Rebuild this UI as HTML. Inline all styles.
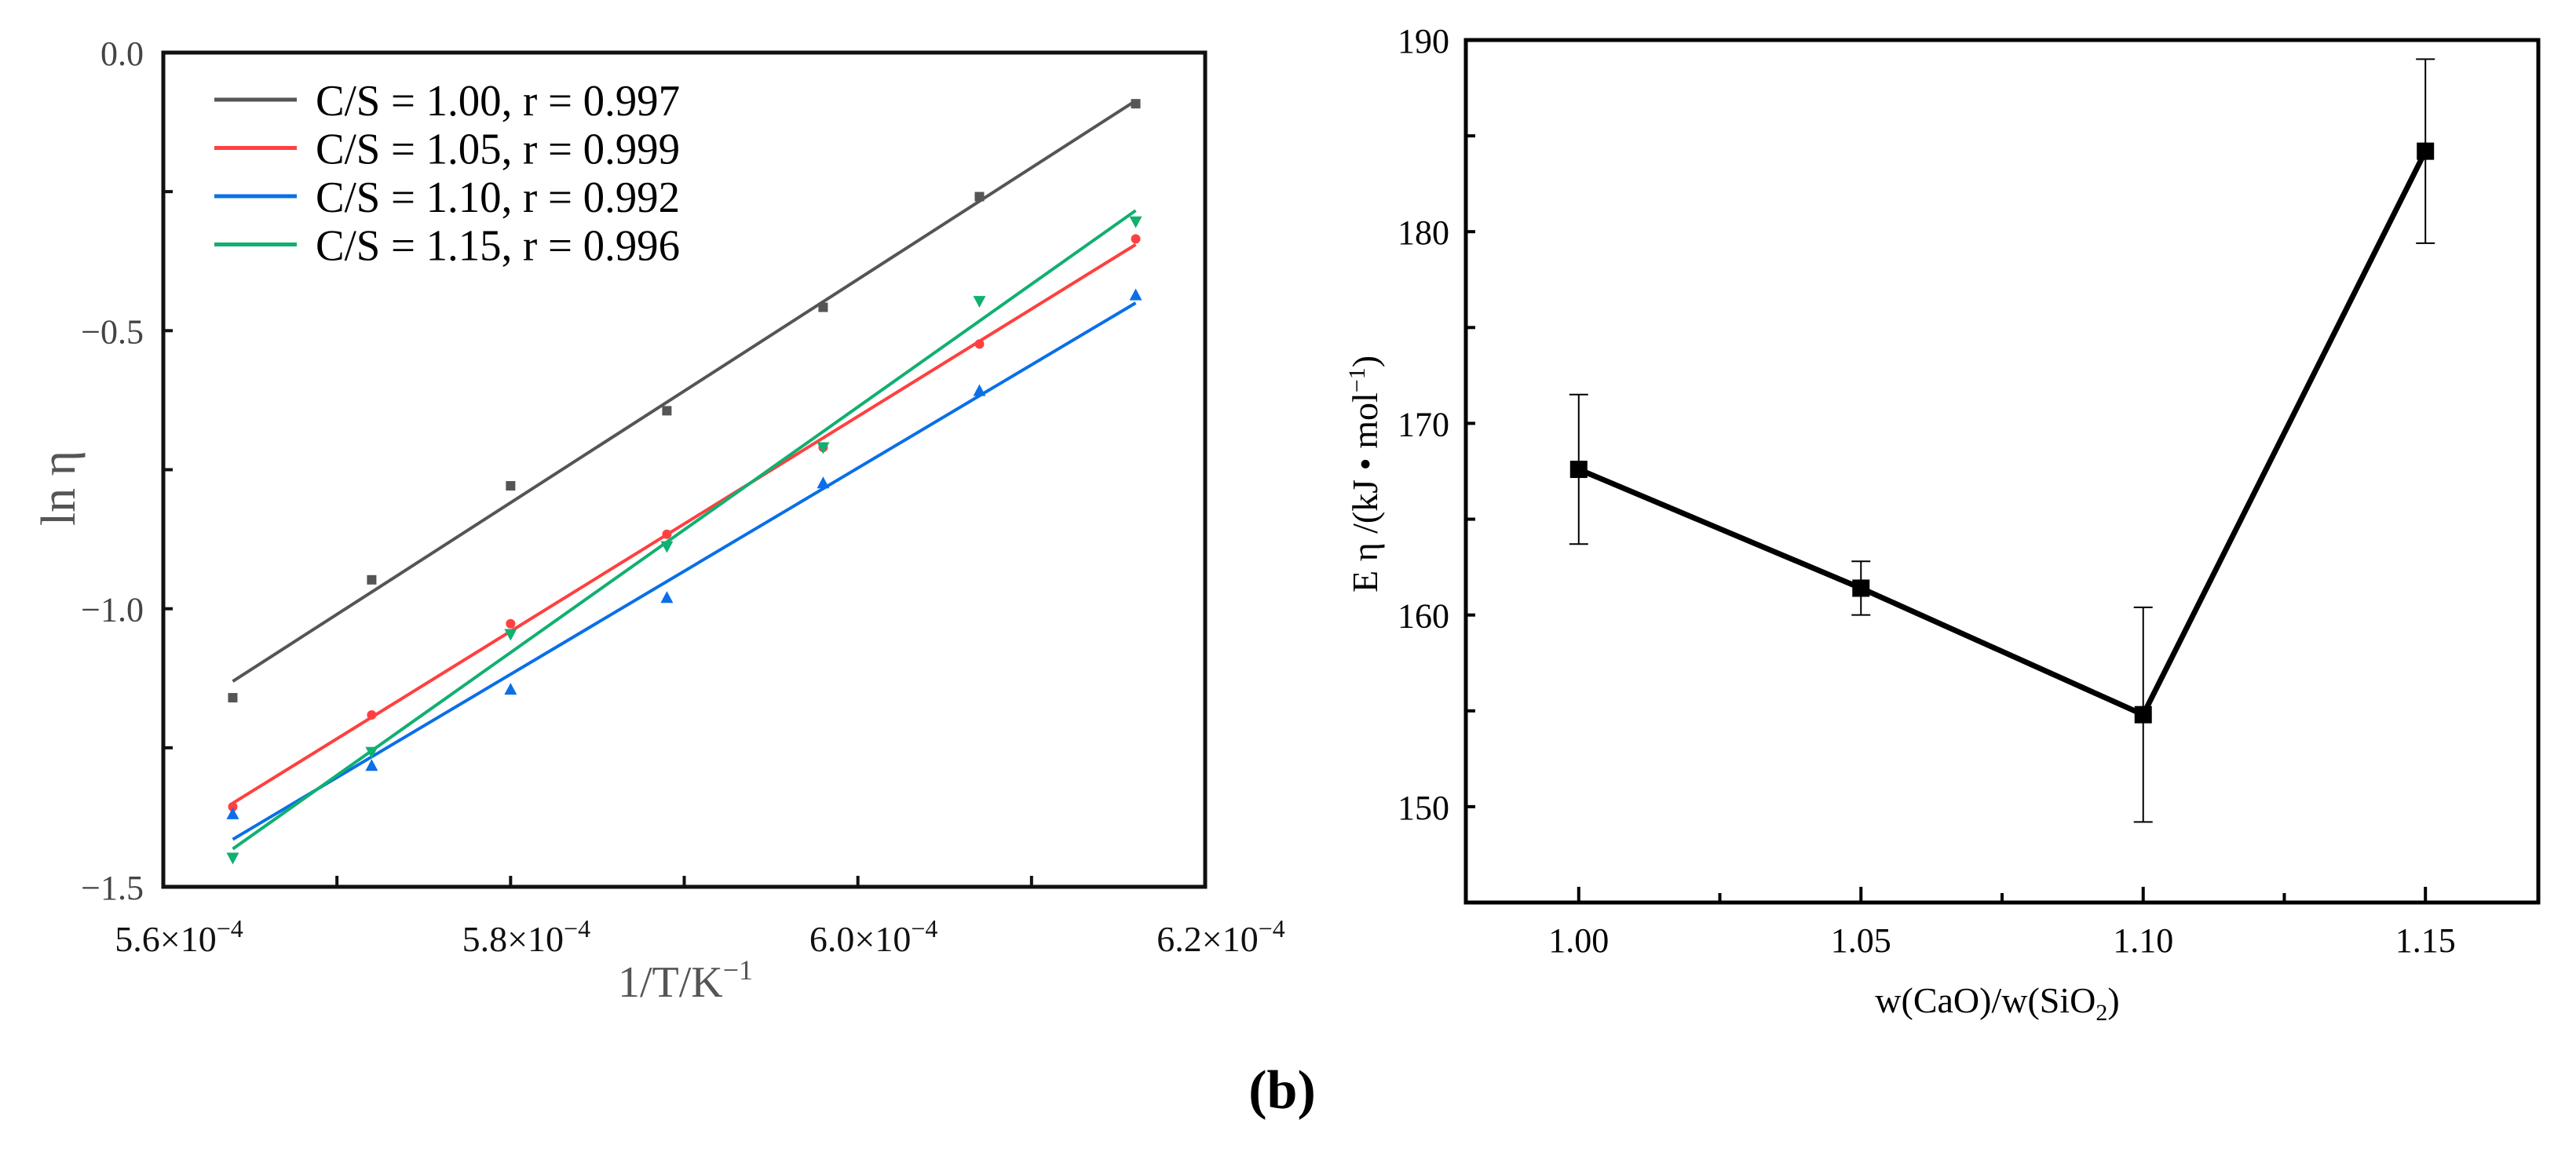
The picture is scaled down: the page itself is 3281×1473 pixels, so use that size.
<!DOCTYPE html>
<html><head><meta charset="utf-8"><style>
html,body{margin:0;padding:0;background:#fff;}
svg{display:block;}
text{font-family:"Liberation Serif",serif;}
</style></head><body>
<svg id="fig" width="3281" height="1473" viewBox="0 0 3281 1473" xmlns="http://www.w3.org/2000/svg">
<g id="left"></g>
<g id="right"></g>
<text x="1633" y="1412" font-size="70" font-weight="bold" text-anchor="middle">(b)</text>
</svg>
<script>
// ---- Left chart data ----
const invT = [5.64, 5.72, 5.80, 5.89, 5.98, 6.07, 6.16]; // ×1e-4
const seriesNames = ["C/S = 1.00, r = 0.997","C/S = 1.05, r = 0.999","C/S = 1.10, r = 0.992","C/S = 1.15, r = 0.996"];
const lnEta100 = [-1.160,-0.948,-0.779,-0.644,-0.458,-0.259,-0.092];
const lnEta105 = [-1.356,-1.191,-1.027,-0.866,-0.710,-0.524,-0.335];
const lnEta110 = [-1.370,-1.283,-1.146,-0.981,-0.775,-0.609,-0.437];
const lnEta115 = [-1.447,-1.257,-1.045,-0.887,-0.709,-0.446,-0.303];
const leftXTicks = [5.6, 5.8, 6.0, 6.2];
const leftYTicks = [0.0, -0.5, -1.0, -1.5];
// ---- Right chart data ----
const csRatio = [1.00, 1.05, 1.10, 1.15];
const energy = [167.6, 161.4, 154.8, 184.2];
const errUp = [171.5, 162.8, 160.4, 189.0];
const errLo = [163.7, 160.0, 149.2, 179.4];
const rightXTicks = ["1.00","1.05","1.10","1.15"];
const rightYTicks = [150, 160, 170, 180, 190];

const NS="http://www.w3.org/2000/svg";
function mk(parent, tag, attrs){const e=document.createElementNS(NS,tag);for(const k in attrs)e.setAttribute(k,attrs[k]);parent.appendChild(e);return e;}

// ===== LEFT =====
(function(){
const g=document.getElementById('left');
const L=208,R=1535,T=67,B=1130;
const xs=v=>L+(v-5.6)/0.6*(R-L);
const ys=v=>T+(0-v)/1.5*(B-T);
const colors=["#555555","#ff4040","#0a6fe8","#10b070"];
const data=[lnEta100,lnEta105,lnEta110,lnEta115];
// ticks
for(let v=5.7;v<6.2-1e-6;v+=0.1){const t=mk(g,'line',{x1:xs(v),x2:xs(v),y1:B,y2:B-14,stroke:'#111','stroke-width':4});

}
for(let v=-0.25;v>-1.5+1e-6;v-=0.25){const t=mk(g,'line',{x1:L,x2:L+12,y1:ys(v),y2:ys(v),stroke:'#111','stroke-width':4});

}
const box=mk(g,'rect',{x:L,y:T,width:R-L,height:B-T,fill:'none',stroke:'#111','stroke-width':5});


leftYTicks.forEach(v=>{const t=mk(g,'text',{x:183,y:ys(v)+16,'font-size':44,'text-anchor':'end',fill:'#444'});t.textContent=v.toFixed(1).replace('-','−');

});
leftXTicks.forEach(v=>{const t=mk(g,'text',{x:xs(v)+20,y:1212,'font-size':46,'text-anchor':'middle',fill:'#111'});
t.innerHTML=v.toFixed(1)+'×10<tspan dy="-18" font-size="32">−4</tspan>';

});
const xt=mk(g,'text',{x:873,y:1270,'font-size':56,'text-anchor':'middle',fill:'#555'});
xt.innerHTML='1/T/K<tspan dy="-22" font-size="36">−1</tspan>';


const yt=mk(g,'text',{x:0,y:0,'font-size':62,'text-anchor':'middle',fill:'#555',transform:'translate(95,622) rotate(-90)'});
yt.textContent='ln η';


data.forEach((ys_,i)=>{
  const n=invT.length;let mx=0,my=0;for(let k=0;k<n;k++){mx+=invT[k];my+=ys_[k];}mx/=n;my/=n;
  let sxy=0,sxx=0;for(let k=0;k<n;k++){sxy+=(invT[k]-mx)*(ys_[k]-my);sxx+=(invT[k]-mx)**2;}
  const b=sxy/sxx,a=my-b*mx;const x0=invT[0],x1=invT[n-1];
  const ln=mk(g,'line',{x1:xs(x0),y1:ys(a+b*x0),x2:xs(x1),y2:ys(a+b*x1),stroke:colors[i],'stroke-width':4});
  
  
  ys_.forEach((v,k)=>{const cx=xs(invT[k]),cy=ys(v);let m;
    if(i===0)m=mk(g,'rect',{x:cx-6,y:cy-6,width:12,height:12,fill:colors[i]});
    else if(i===1)m=mk(g,'circle',{cx:cx,cy:cy,r:6,fill:colors[i]});
    else if(i===2)m=mk(g,'polygon',{points:`${cx},${cy-9} ${cx-8},${cy+6} ${cx+8},${cy+6}`,fill:colors[i]});
    else m=mk(g,'polygon',{points:`${cx},${cy+9} ${cx-8},${cy-6} ${cx+8},${cy-6}`,fill:colors[i]});
    
    });
  const ly=127+i*61.5;
  const ll=mk(g,'line',{x1:273,x2:378,y1:ly,y2:ly,stroke:colors[i],'stroke-width':5});
  
  
  const lt=mk(g,'text',{x:402,y:ly+20,'font-size':56,textLength:464,lengthAdjust:'spacingAndGlyphs',fill:'#000'});
  lt.textContent=seriesNames[i];
  
  
});
})();

// ===== RIGHT =====
(function(){
const g=document.getElementById('right');
const L=1867,R=3233,T=51,B=1150;
const xs=v=>L+(v-0.98)/0.19*(R-L);
const ys=v=>T+(190-v)/45*(B-T);
for(let v=1.0;v<1.17;v+=0.025){const t=mk(g,'line',{x1:xs(v),x2:xs(v),y1:B,y2:B-(Math.abs((v*40)%2)<0.01||Math.abs((v*40)%2-2)<0.01?20:12),stroke:'#000','stroke-width':4});

}
for(let v=185;v>145;v-=5){const t=mk(g,'line',{x1:L,x2:L+12,y1:ys(v),y2:ys(v),stroke:'#000','stroke-width':4});

}
const box=mk(g,'rect',{x:L,y:T,width:R-L,height:B-T,fill:'none',stroke:'#000','stroke-width':5});


rightYTicks.forEach(v=>{const t=mk(g,'text',{x:1846,y:ys(v)+16,'font-size':44,'text-anchor':'end',fill:'#000'});t.textContent=v;

});
rightXTicks.forEach(s=>{const t=mk(g,'text',{x:xs(parseFloat(s)),y:1213,'font-size':44,'text-anchor':'middle',fill:'#000'});t.textContent=s;

});
const xt=mk(g,'text',{x:2544,y:1290,'font-size':46,'text-anchor':'middle',fill:'#000'});
xt.innerHTML='w(CaO)/w(SiO<tspan dy="10" font-size="30">2</tspan><tspan dy="-10">)</tspan>';


const yt=mk(g,'text',{x:0,y:0,'font-size':46,'text-anchor':'middle',fill:'#000',transform:'translate(1754,604) rotate(-90)'});
yt.innerHTML='E η /(kJ • mol<tspan dy="-16" font-size="30">−1</tspan><tspan dy="16">)</tspan>';


const pts=csRatio.map((c,i)=>xs(c)+','+ys(energy[i])).join(' ');
const pl=mk(g,'polyline',{points:pts,fill:'none',stroke:'#000','stroke-width':7});


csRatio.forEach((c,i)=>{const cx=xs(c);
  const eb=mk(g,'path',{d:`M${cx},${ys(errUp[i])}V${ys(errLo[i])}M${cx-12},${ys(errUp[i])}h24M${cx-12},${ys(errLo[i])}h24`,stroke:'#000','stroke-width':2,fill:'none'});
  
  
  const m=mk(g,'rect',{x:cx-11,y:ys(energy[i])-11,width:22,height:22,fill:'#000'});
  
  });
})();
</script>
</body></html>
